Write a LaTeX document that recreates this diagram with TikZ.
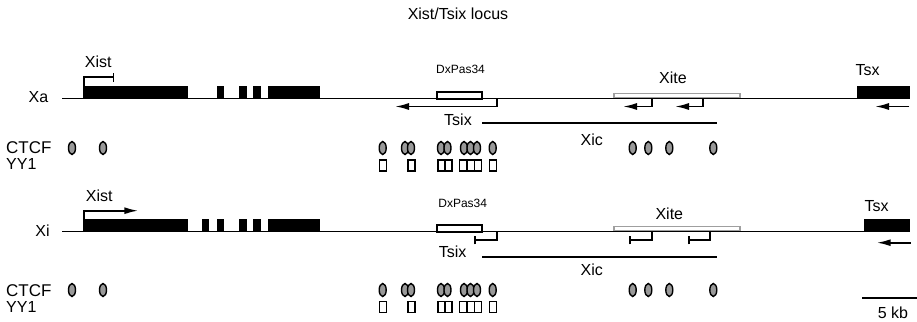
\documentclass[tikz,border=0pt]{standalone}
\usepackage{fontspec}
\setmainfont{Liberation Sans}
\usetikzlibrary{calc, shapes, arrows.meta}
\usetikzlibrary{positioning}
\tikzstyle{tag} = [font=\fontsize{16}{18}\selectfont, inner sep=0pt]
\tikzstyle{bigtag} = [font=\fontsize{17}{19}\selectfont, inner sep=0pt]
\tikzstyle{smalltag} = [font=\fontsize{12}{14}\selectfont, inner sep=0pt]
\tikzstyle{chrom} = [line width=1.7pt]
\tikzstyle{exon} = [fill=black]
\tikzstyle{ctcf} = [ellipse, draw, fill=gray!80, line width=1.4pt, minimum width=7pt, minimum height=13pt, inner sep=0pt]
\tikzstyle{yy} = [rectangle, draw, fill=white, line width=1.4pt, minimum width=7pt, minimum height=11pt, inner sep=0pt]
\tikzstyle{toleft} = [line width=1.8pt, -{Latex[length=14pt, width=7pt]}]
\tikzstyle{tobar} = [line width=1.8pt, -{Bar[width=8.5pt]}]

\begin{document}
\begin{tikzpicture}[x=1pt, y=-1pt]
        \useasboundingbox (0, 0) rectangle (917, 321);
        \node[tag] at (458, 14) (title) {Xist/Tsix locus};

        % active X
        \node[tag] at (38.5, 97) (Xa) {Xa};
        \coordinate (XaStart) at (62, 98.5);
        \coordinate (XaEnd) at (910, 98.5);
        \draw[chrom] (XaStart) -- (XaEnd);
        \fill[exon] (83, 86) rectangle (187.7, 98.5);
        \fill[exon] (217, 86) rectangle (224, 98.5);
        \fill[exon] (239, 86) rectangle (247, 98.5);
        \fill[exon] (253, 86) rectangle (261, 98.5);
        \fill[exon] (268, 86) rectangle (320, 98.5);
        \fill[exon] (857.3, 86) rectangle (910, 98.5);
        \draw[line width=2pt, fill=white] (437.3, 92) rectangle (482.3, 98.5);
        \draw[line width=1.6pt, gray!75] (614, 93.3) rectangle (740, 98);
        \draw[chrom] (600, 98.5) -- (XaEnd);

        \node[tag] at (98.3, 61.7) (XistXa) {Xist};
        \node[smalltag] at (460.5, 69) (DxPasXa) {DxPas34};
        \node[tag] at (458, 120) (TsixXa) {Tsix};
        \node[tag] at (591.7, 139.5) (XicXa) {Xic};
        \node[tag] at (673, 78) (XiteXa) {Xite};
        \node[tag] at (867.7, 70) (TsxXa) {Tsx};

        \coordinate (XistXaTSS) at (84, 86);
        \coordinate (XistXaTip) at (114.3, 77.3);
        \coordinate (TsixXaTSS) at (496.7, 98.5);
        \coordinate (TsixXaTip) at (395, 106.5);
        \coordinate (XiteXaTSSa) at (651.7, 98.5);
        \coordinate (XiteXaTipa) at (623, 106.5);
        \coordinate (XiteXaTSSb) at (702.7, 98.5);
        \coordinate (XiteXaTipb) at (675, 106.5);
        \coordinate (TsxXaTSS) at (909.3, 106.5);
        \coordinate (TsxXaTip) at (875, 106.5);
        \coordinate (XicXaStart) at (482, 123);
        \coordinate (XicXaEnd) at (717.3, 123);

        \draw[tobar] (XistXaTSS) |- (XistXaTip);
        \draw[toleft] (TsixXaTSS) |- (TsixXaTip);
        \draw[toleft] (XiteXaTSSa) |- (XiteXaTipa);
        \draw[toleft] (XiteXaTSSb) |- (XiteXaTipb);
        \draw[toleft] (TsxXaTSS) -- (TsxXaTip);
        \draw[chrom] (XicXaStart) -- (XicXaEnd);

        \node[bigtag, anchor=west] at (6, 147.5) (CTCFXa) {CTCF};
        \node[tag, anchor=west] at (6, 163.5) (YYXa) {YY1};
        \node[ctcf] at (72, 148) (ctcfXa1) {};
        \node[ctcf] at (103, 148) (ctcfXa2) {};
        \node[ctcf] at (382.7, 148) (ctcfXa3) {};
        \node[ctcf] at (405, 148) (ctcfXa4) {};
        \node[ctcf] at (411, 148) (ctcfXa5) {};
        \node[ctcf] at (441, 148) (ctcfXa6) {};
        \node[ctcf] at (447.5, 148) (ctcfXa7) {};
        \node[ctcf] at (464, 148) (ctcfXa8) {};
        \node[ctcf] at (470.5, 148) (ctcfXa9) {};
        \node[ctcf] at (477, 148) (ctcfXa10) {};
        \node[ctcf] at (492.7, 148) (ctcfXa11) {};
        \node[ctcf] at (632.7, 148) (ctcfXa12) {};
        \node[ctcf] at (648.3, 148) (ctcfXa13) {};
        \node[ctcf] at (669.3, 148) (ctcfXa14) {};
        \node[ctcf] at (713.3, 148) (ctcfXa15) {};
        \node[yy] at (382.7, 165.5) (yyXa1) {};
        \node[yy] at (411.5, 165.5) (yyXa2) {};
        \node[yy] at (441.5, 165.5) (yyXa3) {};
        \node[yy] at (448.5, 165.5) (yyXa4) {};
        \node[yy] at (463.2, 165.5) (yyXa5) {};
        \node[yy] at (470.7, 165.5) (yyXa6) {};
        \node[yy] at (478.2, 165.5) (yyXa7) {};
        \node[yy] at (492.7, 165.5) (yyXa8) {};

        % inactive X
        \node[tag] at (42.5, 231) (Xi) {Xi};
        \coordinate (XiStart) at (62, 231.5);
        \coordinate (XiEnd) at (910, 231.5);
        \draw[chrom] (XiStart) -- (XiEnd);
        \fill[exon] (83, 219) rectangle (187.7, 231.5);
        \fill[exon] (202, 219) rectangle (209, 231.5);
        \fill[exon] (217, 219) rectangle (224, 231.5);
        \fill[exon] (239, 219) rectangle (247, 231.5);
        \fill[exon] (253, 219) rectangle (261, 231.5);
        \fill[exon] (268, 219) rectangle (320, 231.5);
        \fill[exon] (864.3, 219) rectangle (910, 231.5);
        \draw[line width=2pt, fill=white] (437.3, 225) rectangle (482.3, 231.5);
        \draw[line width=1.6pt, gray!75] (614, 226.3) rectangle (740, 231);
        \draw[chrom] (600, 231.5) -- (XiEnd);

        \node[tag] at (99.3, 196) (XistXi) {Xist};
        \node[smalltag] at (462.7, 203) (DxPasXi) {DxPas34};
        \node[tag] at (452.7, 251.7) (TsixXi) {Tsix};
        \node[tag] at (591.7, 270) (XicXi) {Xic};
        \node[tag] at (669.3, 213.3) (XiteXi) {Xite};
        \node[tag] at (876.7, 206) (TsxXi) {Tsx};

        \coordinate (XistXiTSS) at (84.3, 219);
        \coordinate (XistXiTip) at (138.3, 210.7);
        \coordinate (TsixXiTSS) at (496.7, 231.5);
        \coordinate (TsixXiTip) at (474.3, 240);
        \coordinate (XiteXiTSSa) at (651.7, 231.5);
        \coordinate (XiteXiTipa) at (629, 240);
        \coordinate (XiteXiTSSb) at (710, 231.5);
        \coordinate (XiteXiTipb) at (687.7, 240);
        \coordinate (TsxXiTSS) at (910.7, 242.7);
        \coordinate (TsxXiTip) at (876.7, 242.7);
        \coordinate (XicXiStart) at (482.3, 257);
        \coordinate (XicXiEnd) at (717.3, 257);

        \draw[toleft] (XistXiTSS) |- (XistXiTip);
        \draw[tobar] (TsixXiTSS) |- (TsixXiTip);
        \draw[tobar] (XiteXiTSSa) |- (XiteXiTipa);
        \draw[tobar] (XiteXiTSSb) |- (XiteXiTipb);
        \draw[toleft] (TsxXiTSS) -- (TsxXiTip);
        \draw[chrom] (XicXiStart) -- (XicXiEnd);

        \node[bigtag, anchor=west] at (6, 290.5) (CTCFXi) {CTCF};
        \node[tag, anchor=west] at (6, 307) (YYXi) {YY1};
        \node[ctcf] at (72, 290) (ctcfXi1) {};
        \node[ctcf] at (103, 290) (ctcfXi2) {};
        \node[ctcf] at (382.7, 290) (ctcfXi3) {};
        \node[ctcf] at (405, 290) (ctcfXi4) {};
        \node[ctcf] at (411, 290) (ctcfXi5) {};
        \node[ctcf] at (441, 290) (ctcfXi6) {};
        \node[ctcf] at (447.5, 290) (ctcfXi7) {};
        \node[ctcf] at (464, 290) (ctcfXi8) {};
        \node[ctcf] at (470.5, 290) (ctcfXi9) {};
        \node[ctcf] at (477, 290) (ctcfXi10) {};
        \node[ctcf] at (492.7, 290) (ctcfXi11) {};
        \node[ctcf] at (632.7, 290) (ctcfXi12) {};
        \node[ctcf] at (648.3, 290) (ctcfXi13) {};
        \node[ctcf] at (669.3, 290) (ctcfXi14) {};
        \node[ctcf] at (713.3, 290) (ctcfXi15) {};
        \node[yy] at (382.7, 306.7) (yyXi1) {};
        \node[yy] at (411.5, 306.7) (yyXi2) {};
        \node[yy] at (441.5, 306.7) (yyXi3) {};
        \node[yy] at (448.5, 306.7) (yyXi4) {};
        \node[yy] at (463.2, 306.7) (yyXi5) {};
        \node[yy] at (470.7, 306.7) (yyXi6) {};
        \node[yy] at (478.2, 306.7) (yyXi7) {};
        \node[yy] at (492.7, 306.7) (yyXi8) {};

        % scale
        \coordinate (ScaleStart) at (862.3, 297.7);
        \coordinate (ScaleEnd) at (916.5, 297.7);
        \draw[chrom] (ScaleStart) -- (ScaleEnd);
        \node[tag] at (893, 313) (ScaleXi) {5 kb};
    \end{tikzpicture}
\end{document}
